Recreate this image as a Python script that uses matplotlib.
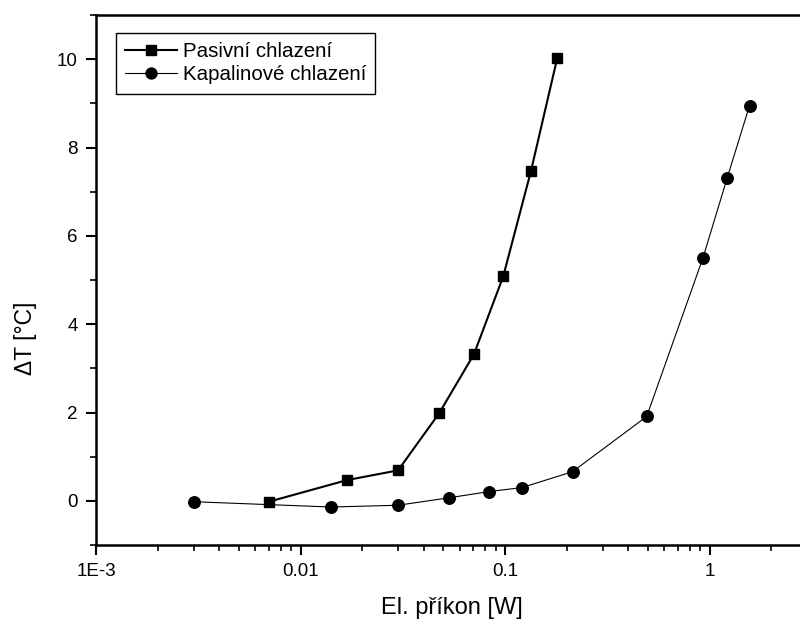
import numpy as np
import matplotlib
matplotlib.use('Agg')
import matplotlib.pyplot as plt
from matplotlib.ticker import LogLocator, FixedLocator, MultipleLocator, NullFormatter

# Data
pasivni_x = [0.007, 0.0169, 0.030, 0.0476, 0.0705, 0.098, 0.134, 0.180]
pasivni_y = [-0.02, 0.47, 0.69, 1.98, 3.32, 5.08, 7.47, 10.02]
kapalina_x = [0.003, 0.0141, 0.030, 0.0534, 0.0838, 0.121, 0.214, 0.493, 0.929, 1.22, 1.57]
kapalina_y = [-0.02, -0.14, -0.10, 0.07, 0.21, 0.30, 0.66, 1.91, 5.50, 7.31, 8.95]

xtick_vals = [1e-3, 1e-2, 1e-1, 1]
xtick_labels = ['1E-3', '0.01', '0.1', '1']

plt.rcParams['font.family'] = ['Liberation Sans', 'DejaVu Sans']

fig = plt.figure(figsize=(8, 6.23), dpi=100)
ax = fig.add_axes([96/800, 78/623, 712/800, 530/623])  # right spine off the canvas

ax.plot(pasivni_x, pasivni_y, color='black', lw=1.5, marker='s', ms=7.5,
        label='Pasivní chlazení')
ax.plot(kapalina_x, kapalina_y, color='black', lw=0.8, marker='o', ms=8.3,
        label='Kapalinové chlazení')

ax.set_xscale('log')
ax.set_xlim(1e-3, 10 ** (712/204.5 - 3))
ax.set_ylim(-1, 11)

ax.xaxis.set_major_locator(FixedLocator(xtick_vals))
ax.set_xticklabels(xtick_labels)
ax.xaxis.set_minor_locator(LogLocator(base=10, subs=np.arange(2, 10)))
ax.xaxis.set_minor_formatter(NullFormatter())
ax.yaxis.set_major_locator(MultipleLocator(2))
ax.yaxis.set_minor_locator(MultipleLocator(1))

ax.tick_params(which='major', direction='out', length=7, width=1.5, labelsize=13.5, pad=6)
ax.tick_params(which='minor', direction='out', length=4, width=1.2)
ax.tick_params(top=False, right=False)
for sp in ax.spines.values():
    sp.set_linewidth(1.8)

ax.set_xlabel('El. příkon [W]', fontsize=17, labelpad=12)
ax.set_ylabel('ΔT [°C]', fontsize=16.5)
ax.yaxis.set_label_coords(-0.083, 0.39)

leg = ax.legend(loc='upper left', bbox_to_anchor=(0.028, 0.966), fontsize=14.8,
                frameon=True, fancybox=False, edgecolor='black', framealpha=1,
                handlelength=2.5, handletextpad=0.3, borderpad=0.45,
                labelspacing=0.2, markerscale=0.95, borderaxespad=0)
leg.get_frame().set_linewidth(1.0)

fig.savefig('out.png', dpi=100)
